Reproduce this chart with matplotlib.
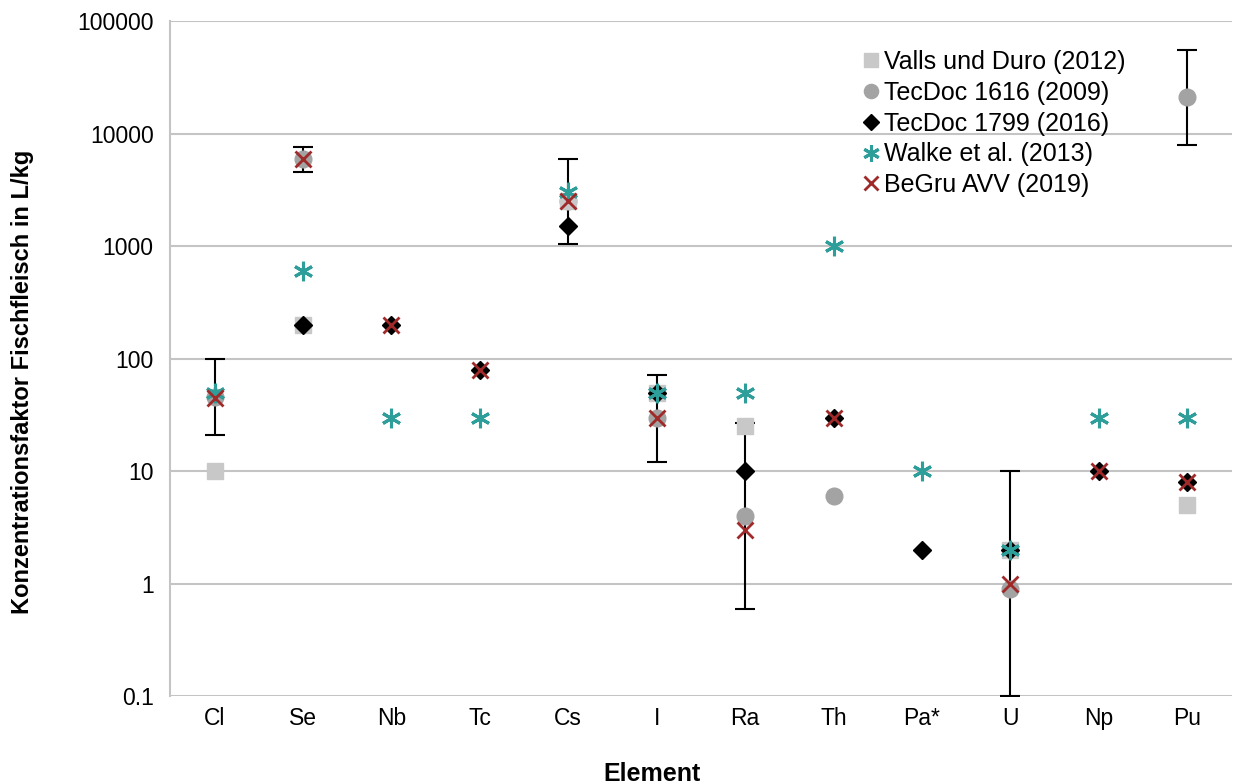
import numpy as np
import matplotlib.pyplot as plt
from matplotlib.ticker import FixedLocator, FuncFormatter, NullLocator

plt.rcParams['font.family'] = ['Liberation Sans', 'DejaVu Sans']

elements = ['Cl', 'Se', 'Nb', 'Tc', 'Cs', 'I', 'Ra', 'Th', 'Pa*', 'U', 'Np', 'Pu']
nan = np.nan

valls_duro = [10, 200, nan, nan, 2500, 50, 25, nan, nan, 2, nan, 5]
tecdoc_1616 = [46, 6000, nan, nan, 2500, 30, 4, 6, nan, 0.9, nan, 21000]
tecdoc_1616_lo = [21, 4600, nan, nan, 1050, 12, 0.6, nan, nan, 0.1, nan, 8000]
tecdoc_1616_hi = [100, 7600, nan, nan, 6000, 72, 27, nan, nan, 10, nan, 55000]
tecdoc_1799 = [nan, 200, 200, 80, 1500, 50, 10, 30, 2, 2, 10, 8]
walke = [50, 600, 30, 30, 3000, 50, 50, 1000, 10, 2, 30, 30]
begru = [45, 6000, 200, 80, 2500, 30, 3, 30, nan, 1, 10, 8]

x = np.arange(len(elements))

fig = plt.figure(figsize=(12.34, 7.84), dpi=100)
ax = fig.add_axes([0.138, 0.112, 0.86, 0.861])

# error bars of TecDoc 1616
c = np.array(tecdoc_1616, dtype=float)
lo = np.array(tecdoc_1616_lo, dtype=float)
hi = np.array(tecdoc_1616_hi, dtype=float)
mask = ~np.isnan(lo)
ax.errorbar(x[mask], c[mask], yerr=[c[mask] - lo[mask], hi[mask] - c[mask]],
            fmt='none', ecolor='black', elinewidth=1.5, capsize=7, capthick=1.5, zorder=2)

ax.plot(x, c, linestyle='none', marker='o', ms=12, color='#a3a3a3', mec='#a3a3a3',
        label='TecDoc 1616 (2009)', zorder=3)
ax.plot(x, valls_duro, linestyle='none', marker='s', ms=12, color='#c8c8c8', mec='#c8c8c8',
        label='Valls und Duro (2012)', zorder=3)
ax.plot(x, tecdoc_1799, linestyle='none', marker='D', ms=9, color='black', mec='black',
        label='TecDoc 1799 (2016)', zorder=4)
ax.plot(x, walke, linestyle='none', marker=(6, 2, 0), ms=14, mew=2.2, color='#2e9e9a',
        label='Walke et al. (2013)', zorder=5)
ax.plot(x, begru, linestyle='none', marker='x', ms=12, mew=2, color='#a02a2a',
        label='BeGru AVV (2019)', zorder=6)

ax.set_yscale('log')
ax.set_ylim(0.1, 100000)
ax.set_xlim(-0.5, len(elements) - 0.5)
yticks = [0.1, 1, 10, 100, 1000, 10000, 100000]
ax.yaxis.set_major_locator(FixedLocator(yticks))
ax.yaxis.set_minor_locator(NullLocator())
ax.yaxis.set_major_formatter(FuncFormatter(lambda v, p: f'{v:g}'))
ax.set_xticks(x)
ax.set_xticklabels(elements)
ax.tick_params(axis='both', length=0, labelsize=16.5)
ax.tick_params(axis='y', pad=12)
ax.tick_params(axis='x', pad=8)
ax.grid(axis='y', color='#c4c4c4', linewidth=1.5, zorder=0)
ax.set_axisbelow(True)
for s in ['top', 'right', 'bottom']:
    ax.spines[s].set_visible(False)
ax.spines['left'].set_color('#c4c4c4')
ax.spines['left'].set_linewidth(1.5)

ax.set_ylabel('Konzentrationsfaktor Fischfleisch in L/kg', fontsize=17, fontweight='bold')
ax.set_xlabel('Element', fontsize=18, fontweight='bold')
ax.yaxis.set_label_coords(-0.128, 0.465)
ax.xaxis.set_label_coords(0.454, -0.098)

handles, labels = ax.get_legend_handles_labels()
order = [1, 0, 2, 3, 4]
fig.legend([handles[i] for i in order], [labels[i] for i in order],
           loc='upper left', bbox_to_anchor=(858 / 1234, 1 - 50 / 784), frameon=False,
           fontsize=18, handletextpad=0.05, handlelength=1.0, labelspacing=0.27,
           markerscale=0.85, borderpad=0, borderaxespad=0)

fig.savefig('out.png', dpi=100)
